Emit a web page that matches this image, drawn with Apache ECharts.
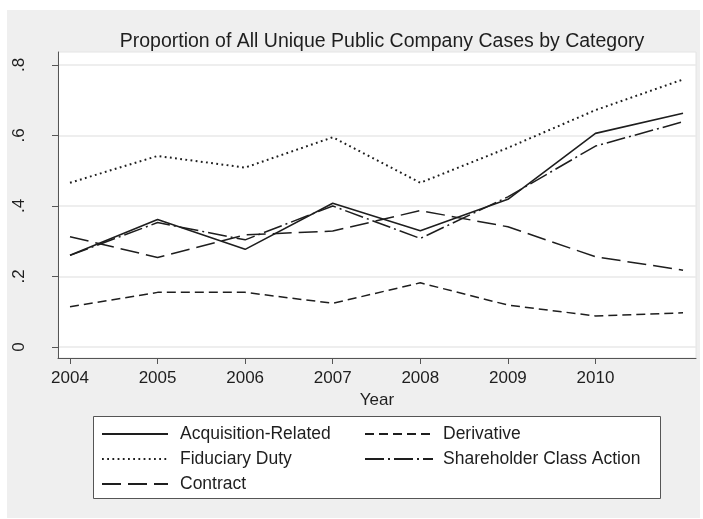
<!DOCTYPE html>
<html>
<head>
<meta charset="utf-8">
<script src="https://cdn.jsdelivr.net/npm/echarts@6/dist/echarts.min.js"></script>
<style>
html,body{margin:0;padding:0;background:#fff;}
#chart{width:703px;height:519px;}
</style>
</head>
<body>
<div id="chart"></div>
<script>
// ---- data ----
const years = [2004, 2005, 2006, 2007, 2008, 2009, 2010, 2011];
const xTickLabels = [2004, 2005, 2006, 2007, 2008, 2009, 2010];
const yTickValues = [0, 0.2, 0.4, 0.6, 0.8];
const acquisitionRelated = [0.260, 0.362, 0.277, 0.408, 0.330, 0.419, 0.606, 0.663];
const derivative         = [0.114, 0.155, 0.155, 0.124, 0.182, 0.119, 0.088, 0.097];
const fiduciaryDuty      = [0.466, 0.542, 0.509, 0.595, 0.466, 0.565, 0.672, 0.759];
const shareholderClass   = [0.260, 0.353, 0.304, 0.400, 0.308, 0.426, 0.570, 0.639];
const contract           = [0.313, 0.254, 0.318, 0.329, 0.387, 0.341, 0.256, 0.218];

const FONT = '"Liberation Sans", Arial, Helvetica, sans-serif';
const INK = '#1e1e1e';

function pairs(vals) { return years.map((y, i) => [y, vals[i]]); }
function mkSeries(name, vals, type, width) {
  return {
    name: name, type: 'line', data: pairs(vals), symbol: 'none',
    lineStyle: { color: INK, width: width || 1.5, type: type },
    itemStyle: { color: INK },
    emphasis: { disabled: true }, animation: false
  };
}

const chart = echarts.init(document.getElementById('chart'), null, { renderer: 'canvas' });
chart.setOption({
  backgroundColor: '#ffffff',
  animation: false,
  graphic: [
    { type: 'rect', z: -10, shape: { x: 7, y: 10, width: 693, height: 508 }, style: { fill: '#efefef' } },
    { type: 'rect', z: 5, shape: { x: 93.5, y: 416.5, width: 567, height: 82 }, style: { fill: '#ffffff', stroke: '#555', lineWidth: 1 } }
  ],
  title: {
    text: 'Proportion of All Unique Public Company Cases by Category',
    left: 377, top: 27, textAlign: 'center',
    textStyle: { fontFamily: FONT, fontSize: 19.5, fontWeight: 'normal', color: INK }
  },
  grid: {
    left: 58, top: 52, right: 7, bottom: 161,
    show: true, backgroundColor: '#ffffff', borderColor: '#e4e4e4', borderWidth: 1
  },
  xAxis: {
    type: 'value', min: 2003.863, max: 2011.148,
    name: 'Year', nameLocation: 'middle', nameGap: 33,
    nameTextStyle: { fontFamily: FONT, fontSize: 17, color: INK },
    axisLine: { show: true, onZero: false, lineStyle: { color: '#555', width: 1 } },
    axisTick: { show: true, length: 6, customValues: xTickLabels, lineStyle: { color: '#555' } },
    axisLabel: { customValues: xTickLabels, margin: 12, fontFamily: FONT, fontSize: 17, color: INK, formatter: v => String(v) },
    splitLine: { show: false }
  },
  yAxis: {
    type: 'value', min: -0.0312, max: 0.8369,
    axisLine: { show: true, onZero: false, lineStyle: { color: '#555', width: 1 } },
    axisTick: { show: true, length: 6, customValues: yTickValues, lineStyle: { color: '#555' } },
    axisLabel: {
      customValues: yTickValues, rotate: 90, margin: 30,
      fontFamily: FONT, fontSize: 17, color: INK,
      formatter: v => v === 0 ? '0' : String(Math.round(v * 10) / 10).replace(/^0/, '')
    },
    splitLine: { show: true, lineStyle: { color: '#e8e8e8', width: 1.5 } }
  },
  legend: [
    {
      orient: 'vertical', left: 96, top: 420, itemWidth: 66, itemHeight: 17, itemGap: 7,
      z: 10, itemStyle: { opacity: 0 },
      textStyle: { fontFamily: FONT, fontSize: 17.5, color: INK, padding: [0, 0, 0, 7] },
      data: ['Acquisition-Related', 'Fiduciary Duty', 'Contract'],
      selectedMode: false
    },
    {
      orient: 'vertical', left: 359, top: 420, itemWidth: 68, itemHeight: 17, itemGap: 7,
      z: 10, itemStyle: { opacity: 0 },
      textStyle: { fontFamily: FONT, fontSize: 17.5, color: INK, padding: [0, 0, 0, 5] },
      data: ['Derivative', 'Shareholder Class Action'],
      selectedMode: false
    }
  ],
  series: [
    mkSeries('Acquisition-Related', acquisitionRelated, 'solid', 1.6),
    mkSeries('Derivative', derivative, [9, 5], 1.5),
    mkSeries('Fiduciary Duty', fiduciaryDuty, [1.8, 3.4], 2),
    mkSeries('Shareholder Class Action', shareholderClass, [19, 4, 2, 4], 1.5),
    mkSeries('Contract', contract, [19, 7], 1.5)
  ]
});
</script>
</body>
</html>
